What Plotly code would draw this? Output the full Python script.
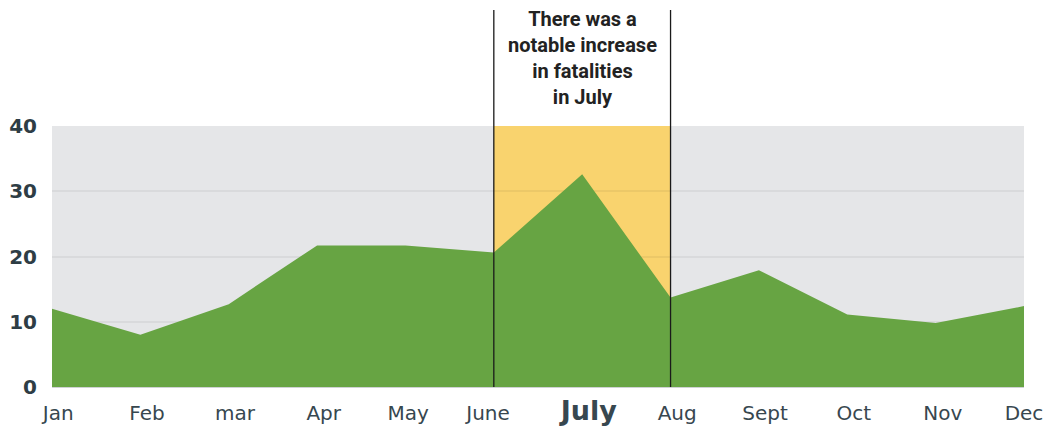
import plotly.graph_objects as go

months = ["Jan", "Feb", "mar", "Apr", "May", "June", "July", "Aug", "Sept", "Oct", "Nov", "Dec"]
fatalities = [12.0, 8.0, 12.7, 21.7, 21.7, 20.6, 32.6, 13.7, 17.9, 11.1, 9.8, 12.4]
tick_labels = ["Jan", "Feb", "mar", "Apr", "May", "June",
               "<b><span style='font-size:27px'>July</span></b>",
               "Aug", "Sept", "Oct", "Nov", "Dec"]
# small horizontal nudges of the month labels (in category units)
label_nudge = [0.07, 0.075, 0.07, 0.075, 0.03, -0.065, 0.075, 0.075, 0.07, 0.075, 0.08, 0.0]
y_ticks = [0, 10, 20, 30, 40]
highlight_start, highlight_end = "June", "Aug"
note = "There was a<br>notable increase<br>in fatalities<br>in July"

fig = go.Figure()
fig.add_trace(go.Scatter(
    x=months, y=fatalities, mode="lines", fill="tozeroy",
    fillcolor="#67a443", line=dict(width=0, color="#67a443"),
    hoverinfo="skip", showlegend=False,
))
# empty trace to carry the label axis
fig.add_trace(go.Scatter(x=[], y=[], xaxis="x2", yaxis="y", showlegend=False, hoverinfo="skip"))

fig.add_shape(type="rect", xref="x", yref="y", x0=highlight_start, x1=highlight_end,
              y0=0, y1=40, fillcolor="#f9d36e", line_width=0, layer="below")
for m in (highlight_start, highlight_end):
    fig.add_shape(type="line", xref="x", yref="paper", x0=m, x1=m, y0=0, y1=1.444,
                  line=dict(color="#1a1a1a", width=1.3), layer="above")

fig.add_annotation(x="July", xref="x", yref="paper", y=1.259, text=note, showarrow=False,
                   font=dict(family="Roboto", size=20, color="#222222", weight="bold"),
                   align="center", yanchor="middle")

fig.update_layout(
    width=1056, height=430,
    margin=dict(l=44, r=40, t=118, b=51),
    paper_bgcolor="white", plot_bgcolor="#e5e6e8",
    showlegend=False,
    xaxis=dict(
        type="category", range=[0, 11], showticklabels=False,
        showgrid=False, zeroline=False, showline=False, ticks="", automargin=False,
    ),
    xaxis2=dict(
        type="linear", range=[0, 11], overlaying="x", side="bottom", anchor="y",
        tickmode="array",
        tickvals=[i + d for i, d in enumerate(label_nudge)], ticktext=tick_labels,
        showgrid=False, zeroline=False, showline=False, ticks="", automargin=False,
        tickfont=dict(family="DejaVu Sans", size=20, color="#37474f"),
        ticklabelstandoff=12,
    ),
    yaxis=dict(
        range=[0, 40], tickvals=y_ticks, showgrid=True, gridcolor="rgba(0,0,0,0.05)", gridwidth=2,
        zeroline=True, zerolinecolor="#cfd2d4", zerolinewidth=2, showline=False, ticks="",
        automargin=False,
        tickfont=dict(family="DejaVu Sans", size=20, color="#2e3d45", weight="bold"),
        ticklabelstandoff=14,
    ),
)

fig.write_html("out.html")
